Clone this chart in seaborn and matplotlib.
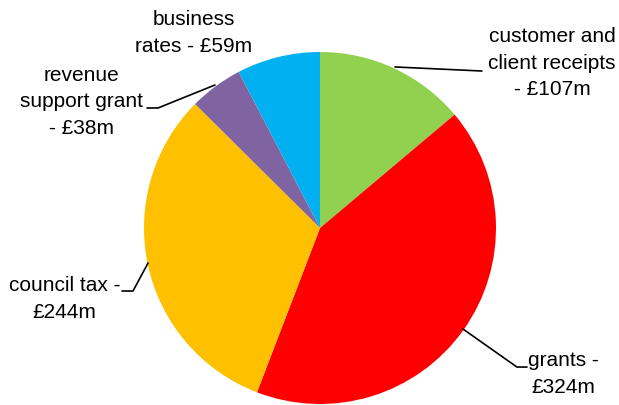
import matplotlib
matplotlib.use("Agg")
import matplotlib.pyplot as plt
import seaborn as sns

sns.set_theme(style="white")
plt.rcParams["font.family"] = ["Liberation Sans Narrow", "Liberation Sans", "DejaVu Sans"]

# Income sources, £m
categories = ["customer and\nclient receipts", "grants", "council tax",
              "revenue\nsupport grant", "business\nrates"]
values = [107, 324, 244, 38, 59]
labels = ["customer and\nclient receipts\n- £107m", "grants -\n£324m",
          "council tax -\n£244m", "revenue\nsupport grant\n- £38m",
          "business\nrates - £59m"]
colors = ["#92D050", "#FF0000", "#FFC000", "#8064A2", "#00B0F0"]

W, H = 619, 405
fig = plt.figure(figsize=(W / 100, H / 100), dpi=100)
cx, cy, r = 320, 228, 176
ax = fig.add_axes([(cx - r) / W, (H - cy - r) / H, 2 * r / W, 2 * r / H])

ax.pie(values, colors=colors, startangle=90, counterclock=False, radius=1,
       wedgeprops=dict(linewidth=0))
ax.set_xlim(-1, 1)
ax.set_ylim(-1, 1)
ax.set_aspect("equal")
ax.axis("off")

# label placement (text position, alignment, leader path)
layout = [
    dict(xy=(1.318, 0.937), ha="center", path=[(0.426, 0.915), (0.920, 0.892)]),
    dict(xy=(1.182, -0.83), ha="left", path=[(0.8125, -0.574), (1.119, -0.790), (1.176, -0.790)]),
    dict(xy=(-1.136, -0.403), ha="right", path=[(-0.977, -0.199), (-1.0625, -0.358), (-1.125, -0.358)]),
    dict(xy=(-1.006, 0.716), ha="right", path=[(-0.597, 0.8125), (-0.920, 0.682), (-0.983, 0.682)]),
    dict(xy=(-0.716, 1.108), ha="center", path=None),
]

for lab, lay in zip(labels, layout):
    ax.text(*lay["xy"], lab, ha=lay["ha"], va="center", multialignment="center",
            fontsize=15, color="black", linespacing=1.5, clip_on=False)
    if lay["path"]:
        xs, ys = zip(*lay["path"])
        ax.plot(xs, ys, color="black", linewidth=1.2, clip_on=False)

fig.savefig("out.png", dpi=100, facecolor="white")
